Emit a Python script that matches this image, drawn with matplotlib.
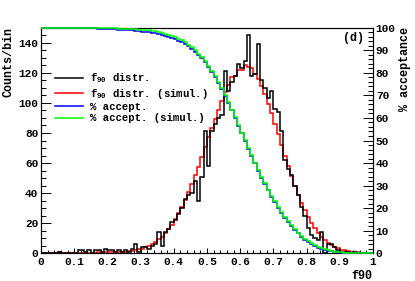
import numpy as np
import matplotlib
matplotlib.use("Agg")
import matplotlib.pyplot as plt
from matplotlib.ticker import MultipleLocator

plt.rcParams['font.family'] = ['Liberation Mono', 'DejaVu Sans Mono']
plt.rcParams['font.weight'] = 'bold'
plt.rcParams['mathtext.default'] = 'regular'

# f90 bins (100 bins of 0.01)
edges = np.linspace(0, 1, 101)

# measured f90 distribution (counts/bin)
f90_data = [
    0, 0, 0, 0, 0, 1, 0, 0, 0, 0,
    0, 2, 2, 1, 2, 0, 2, 2, 1, 3,
    2, 2, 1, 2, 1, 2, 1, 3, 6, 1,
    4, 4, 3, 5, 6, 14, 5, 14, 16, 21,
    22, 26, 30, 36, 39, 40, 48, 35, 51, 81,
    58, 81, 86, 90, 92, 121, 108, 114, 118, 126,
    123, 128, 145, 118, 119, 139, 115, 110, 103, 108,
    96, 94, 81, 62, 56, 52, 45, 39, 31, 25,
    17, 12, 10, 9, 14, 0, 6, 6, 4, 2,
    1, 1, 1, 0, 1, 0, 0, 0, 0, 0,
]

# simulated f90 distribution
f90_simul = [
    0, 0, 0, 0, 0, 0.5, 0, 0, 0, 0,
    0, 0, 0.3, 0, 0.3, 0, 0, 0.5, 0, 0.5,
    0.5, 0.5, 0.5, 0.7, 0.8, 1, 1.2, 1.5, 1.9, 2.4,
    3, 3.8, 4.8, 6, 7.4, 9.2, 11, 13.4, 16, 19,
    22.5, 26.5, 30.5, 35.5, 40.5, 46, 52, 57.5, 64, 70.5,
    77, 83.5, 89.5, 95.5, 101.5, 107, 112, 117, 118, 122,
    122, 125, 124, 123, 119, 116, 111.5, 106, 99.5, 93,
    86, 79, 72, 65, 58, 51.5, 45, 39, 33.5, 28.5,
    24, 20, 16.5, 13.5, 11, 8.7, 6.8, 5.3, 4.1, 3.1,
    2.3, 1.7, 1.2, 0.9, 0.6, 0.4, 0.3, 0.2, 0.1, 0,
]

# % acceptance (events above the f90 cut)
acc_data = [
    100, 100, 100, 100, 100, 100, 100, 100, 100, 100,
    100, 100, 100, 99.95, 99.9, 99.85, 99.8, 99.75, 99.7, 99.6,
    99.55, 99.5, 99.4, 99.3, 99.2, 99.1, 99.0, 98.9, 98.7, 98.5,
    98.4, 98.2, 98.0, 97.8, 97.6, 97.2, 96.9, 96.5, 96.1, 95.6,
    95.1, 94.4, 93.7, 92.9, 91.9, 90.8, 89.5, 88.2, 86.5, 84.8,
    82.8, 80.6, 78.3, 75.7, 72.9, 69.9, 66.6, 63.4, 60.0, 56.6,
    53.2, 49.8, 46.4, 43.0, 39.8, 36.6, 33.5, 30.6, 27.8, 25.1,
    22.6, 20.2, 17.9, 15.7, 13.7, 11.9, 10.2, 8.7, 7.3, 6.0,
    4.9, 3.9, 3.1, 2.4, 1.8, 1.3, 1.0, 0.7, 0.5, 0.35,
    0.22, 0.14, 0.08, 0.05, 0.03, 0.02, 0.01, 0, 0, 0,
]

acc_simul = [
    100, 100, 100, 100, 100, 100, 100, 100, 100, 100,
    100, 100, 100, 100, 100, 99.95, 99.95, 99.9, 99.9, 99.85,
    99.85, 99.8, 99.8, 99.75, 99.7, 99.65, 99.6, 99.5, 99.4, 99.3,
    99.2, 99.0, 98.9, 98.7, 98.5, 98.2, 97.9, 97.5, 97.1, 96.6,
    96.0, 95.3, 94.5, 93.6, 92.6, 91.4, 90.1, 88.6, 87.0, 85.2,
    83.2, 81.0, 78.6, 76.0, 73.2, 70.2, 67.0, 63.7, 60.3, 56.9,
    53.5, 50.1, 46.7, 43.4, 40.2, 37.0, 33.9, 31.0, 28.2, 25.5,
    23.0, 20.6, 18.3, 16.1, 14.1, 12.3, 10.6, 9.0, 7.6, 6.3,
    5.2, 4.3, 3.5, 2.8, 2.1, 1.6, 1.2, 0.9, 0.65, 0.45,
    0.3, 0.2, 0.13, 0.08, 0.05, 0.03, 0.02, 0.01, 0, 0,
]

xtick_vals = [0, 0.1, 0.2, 0.3, 0.4, 0.5, 0.6, 0.7, 0.8, 0.9, 1]
xtick_labels = ["0", "0.1", "0.2", "0.3", "0.4", "0.5", "0.6", "0.7", "0.8", "0.9", "1"]

fig = plt.figure(figsize=(4.15, 2.81), dpi=100)
ax = fig.add_axes([0.0988, 0.0996, 0.8, 0.8008])
ax2 = ax.twinx()

h1 = ax.stairs(f90_simul, edges, color='#ff0000', lw=1.1, baseline=None, label=r'f$_{90}$ distr. (simul.)')
h0 = ax.stairs(f90_data, edges, color='black', lw=1.1, baseline=None, label=r'f$_{90}$ distr.')
h2 = ax2.stairs(acc_data, edges, color='#0000ff', lw=1.1, baseline=None, label='% accept.',
                zorder=3, clip_on=False)
h3 = ax2.stairs(acc_simul, edges, color='#00ff00', lw=1.1, baseline=None, label='% accept. (simul.)',
                zorder=3, clip_on=False)

ax.set_xlim(0, 1)
ax.set_ylim(0, 150)
ax2.set_ylim(0, 100)

ax.set_xticks(xtick_vals)
ax.set_xticklabels(xtick_labels)
ax.xaxis.set_minor_locator(MultipleLocator(0.02))
ax.yaxis.set_major_locator(MultipleLocator(20))
ax.yaxis.set_minor_locator(MultipleLocator(5))
ax2.yaxis.set_major_locator(MultipleLocator(10))
ax2.yaxis.set_minor_locator(MultipleLocator(2))

ax.tick_params(axis='x', which='major', direction='in', length=3.8, width=0.7,
               labelsize=8, pad=3, top=False)
ax.tick_params(axis='x', which='minor', direction='in', length=2, width=0.7, top=False)
ax.tick_params(axis='y', which='major', direction='in', length=7, width=0.7,
               labelsize=8, pad=2, right=False)
ax.tick_params(axis='y', which='minor', direction='in', length=3.5, width=0.7, right=False)
ax2.tick_params(axis='y', which='major', direction='in', length=7, width=0.7,
                labelsize=8, pad=2)
ax2.tick_params(axis='y', which='minor', direction='in', length=3.5, width=0.7)

for a in (ax, ax2):
    for s in a.spines.values():
        s.set_linewidth(0.8)

fig.text(8 / 415, 0.904, 'Counts/bin', rotation=90, ha='center', va='top', fontsize=8.5)
fig.text(405 / 415, 0.904, '% acceptance', rotation=90, ha='center', va='top', fontsize=8.5)
fig.text(0.897, 0.018, 'f90', ha='right', va='center', fontsize=8.5)
ax.text(0.94, 143, '(d)', ha='center', va='center', fontsize=8.5)

ax2.legend(handles=[h0, h1, h2, h3], loc='upper left', bbox_to_anchor=(0.042, 0.806),
           frameon=False, fontsize=7.7, handlelength=2.6, handletextpad=0.65,
           labelspacing=0.12, borderpad=0, borderaxespad=0)

fig.savefig('out.png', dpi=100)
